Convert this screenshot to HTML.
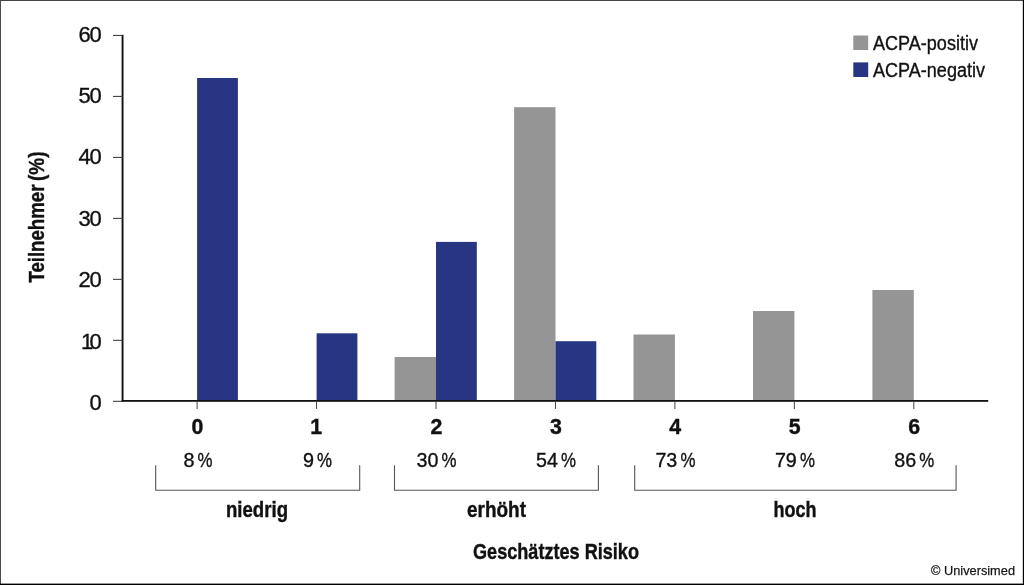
<!DOCTYPE html>
<html lang="de"><head><meta charset="utf-8"><title>Geschätztes Risiko</title>
<style>html,body{margin:0;padding:0;background:#fff;}body{width:1024px;height:585px;overflow:hidden;}svg{display:block;}text{font-family:"Liberation Sans",sans-serif;fill:#111;}.b{font-weight:bold;stroke:#111;stroke-width:0.4px;}.r{stroke:#111;stroke-width:0.35px;}</style></head><body>
<svg width="1024" height="585" viewBox="0 0 1024 585">
<rect x="0" y="0" width="1024" height="585" fill="#fff"/>
<rect x="197.1" y="78.0" width="40.8" height="322.9" fill="#283583"/>
<rect x="316.6" y="333.3" width="40.8" height="67.6" fill="#283583"/>
<rect x="394.6" y="357.0" width="41.4" height="43.9" fill="#959595"/>
<rect x="436.0" y="241.9" width="40.8" height="159.0" fill="#283583"/>
<rect x="514.1" y="107.2" width="41.4" height="293.7" fill="#959595"/>
<rect x="555.5" y="341.2" width="40.8" height="59.7" fill="#283583"/>
<rect x="633.5" y="334.5" width="41.4" height="66.4" fill="#959595"/>
<rect x="753.0" y="311.0" width="41.4" height="89.9" fill="#959595"/>
<rect x="872.4" y="290.0" width="41.4" height="110.9" fill="#959595"/>
<rect x="121.6" y="34.8" width="1.9" height="367" fill="#111"/>
<rect x="121.6" y="400" width="866.6" height="1.8" fill="#111"/>
<rect x="113" y="34.90" width="9.5" height="1.1" fill="#444"/>
<rect x="113" y="95.88" width="9.5" height="1.1" fill="#444"/>
<rect x="113" y="156.86" width="9.5" height="1.1" fill="#444"/>
<rect x="113" y="217.84" width="9.5" height="1.1" fill="#444"/>
<rect x="113" y="278.82" width="9.5" height="1.1" fill="#444"/>
<rect x="113" y="339.80" width="9.5" height="1.1" fill="#444"/>
<rect x="113" y="400.78" width="9.5" height="1.1" fill="#444"/>
<rect x="196.60" y="401" width="1" height="8" fill="#444"/>
<rect x="316.05" y="401" width="1" height="8" fill="#444"/>
<rect x="435.50" y="401" width="1" height="8" fill="#444"/>
<rect x="554.95" y="401" width="1" height="8" fill="#444"/>
<rect x="674.40" y="401" width="1" height="8" fill="#444"/>
<rect x="793.85" y="401" width="1" height="8" fill="#444"/>
<rect x="913.30" y="401" width="1" height="8" fill="#444"/>
<text class="r" x="101.7" y="41.6" font-size="22" text-anchor="end" textLength="23.3">60</text>
<text class="r" x="101.7" y="103.0" font-size="22" text-anchor="end" textLength="23.3">50</text>
<text class="r" x="101.7" y="164.4" font-size="22" text-anchor="end" textLength="23.3">40</text>
<text class="r" x="101.7" y="225.8" font-size="22" text-anchor="end" textLength="23.3">30</text>
<text class="r" x="101.7" y="287.2" font-size="22" text-anchor="end" textLength="23.3">20</text>
<text class="r" x="101.7" y="348.6" font-size="22" text-anchor="end" textLength="20.8">10</text>
<text class="r" x="101.7" y="410.0" font-size="22" text-anchor="end">0</text>
<text class="b" transform="translate(44.3,282.6) rotate(-90)" font-size="21.5"><tspan textLength="98" lengthAdjust="spacingAndGlyphs">Teilnehmer</tspan><tspan dx="3.6" textLength="29.5" lengthAdjust="spacingAndGlyphs">(%)</tspan></text>
<text class="b" x="197.5" y="433.7" font-size="21.3" text-anchor="middle">0</text>
<text class="b" x="316.2" y="433.7" font-size="21.3" text-anchor="middle">1</text>
<text class="b" x="436.4" y="433.7" font-size="21.3" text-anchor="middle">2</text>
<text class="b" x="555.9" y="433.7" font-size="21.3" text-anchor="middle">3</text>
<text class="b" x="675.3" y="433.7" font-size="21.3" text-anchor="middle">4</text>
<text class="b" x="794.8" y="433.7" font-size="21.3" text-anchor="middle">5</text>
<text class="b" x="914.2" y="433.7" font-size="21.3" text-anchor="middle">6</text>
<text class="r" x="194.4" y="466.6" font-size="21" text-anchor="end" textLength="11" lengthAdjust="spacingAndGlyphs">8</text>
<text class="r" x="197.5" y="466.6" font-size="21" textLength="15" lengthAdjust="spacingAndGlyphs">%</text>
<text class="r" x="313.9" y="466.6" font-size="21" text-anchor="end" textLength="11" lengthAdjust="spacingAndGlyphs">9</text>
<text class="r" x="316.9" y="466.6" font-size="21" textLength="15" lengthAdjust="spacingAndGlyphs">%</text>
<text class="r" x="438.4" y="466.6" font-size="21" text-anchor="end" textLength="21.9" lengthAdjust="spacingAndGlyphs">30</text>
<text class="r" x="441.5" y="466.6" font-size="21" textLength="15" lengthAdjust="spacingAndGlyphs">%</text>
<text class="r" x="557.9" y="466.6" font-size="21" text-anchor="end" textLength="21.9" lengthAdjust="spacingAndGlyphs">54</text>
<text class="r" x="561.0" y="466.6" font-size="21" textLength="15" lengthAdjust="spacingAndGlyphs">%</text>
<text class="r" x="677.3" y="466.6" font-size="21" text-anchor="end" textLength="21.9" lengthAdjust="spacingAndGlyphs">73</text>
<text class="r" x="680.4" y="466.6" font-size="21" textLength="15" lengthAdjust="spacingAndGlyphs">%</text>
<text class="r" x="796.8" y="466.6" font-size="21" text-anchor="end" textLength="21.9" lengthAdjust="spacingAndGlyphs">79</text>
<text class="r" x="799.9" y="466.6" font-size="21" textLength="15" lengthAdjust="spacingAndGlyphs">%</text>
<text class="r" x="916.2" y="466.6" font-size="21" text-anchor="end" textLength="21.9" lengthAdjust="spacingAndGlyphs">86</text>
<text class="r" x="919.3" y="466.6" font-size="21" textLength="15" lengthAdjust="spacingAndGlyphs">%</text>
<path d="M155.7 465.3V490.2H359.7V465.3" fill="none" stroke="#555" stroke-width="1.1"/>
<path d="M394.5 465.3V490.2H598.4V465.3" fill="none" stroke="#555" stroke-width="1.1"/>
<path d="M634.7 465.3V490.2H956.1V465.3" fill="none" stroke="#555" stroke-width="1.1"/>
<text class="b" x="226.0" y="516.6" font-size="21.5" textLength="62" lengthAdjust="spacingAndGlyphs">niedrig</text>
<text class="b" x="467.0" y="516.6" font-size="21.5" textLength="59" lengthAdjust="spacingAndGlyphs">erhöht</text>
<text class="b" x="773.6" y="516.6" font-size="21.5" textLength="43" lengthAdjust="spacingAndGlyphs">hoch</text>
<text class="b" x="473" y="558.8" font-size="21.5" textLength="166" lengthAdjust="spacingAndGlyphs">Geschätztes Risiko</text>
<rect x="853.3" y="35.5" width="14.9" height="14.5" fill="#959595"/>
<rect x="853.3" y="62.4" width="14.9" height="14.6" fill="#283583"/>
<text class="r" x="873" y="49.9" font-size="20" textLength="105" lengthAdjust="spacingAndGlyphs">ACPA-positiv</text>
<text class="r" x="873" y="77" font-size="20" textLength="112" lengthAdjust="spacingAndGlyphs">ACPA-negativ</text>
<text x="931" y="575.2" font-size="13.5" stroke="#222" stroke-width="0.25" textLength="84" lengthAdjust="spacingAndGlyphs" fill="#222">© Universimed</text>
<rect x="0" y="0" width="1024" height="1" fill="#444"/>
<rect x="0" y="0" width="1" height="585" fill="#4a4a4a"/>
<rect x="1022.85" y="0" width="1.15" height="585" fill="#000"/>
<rect x="0" y="583.6" width="1024" height="1.4" fill="#000"/>
</svg></body></html>
